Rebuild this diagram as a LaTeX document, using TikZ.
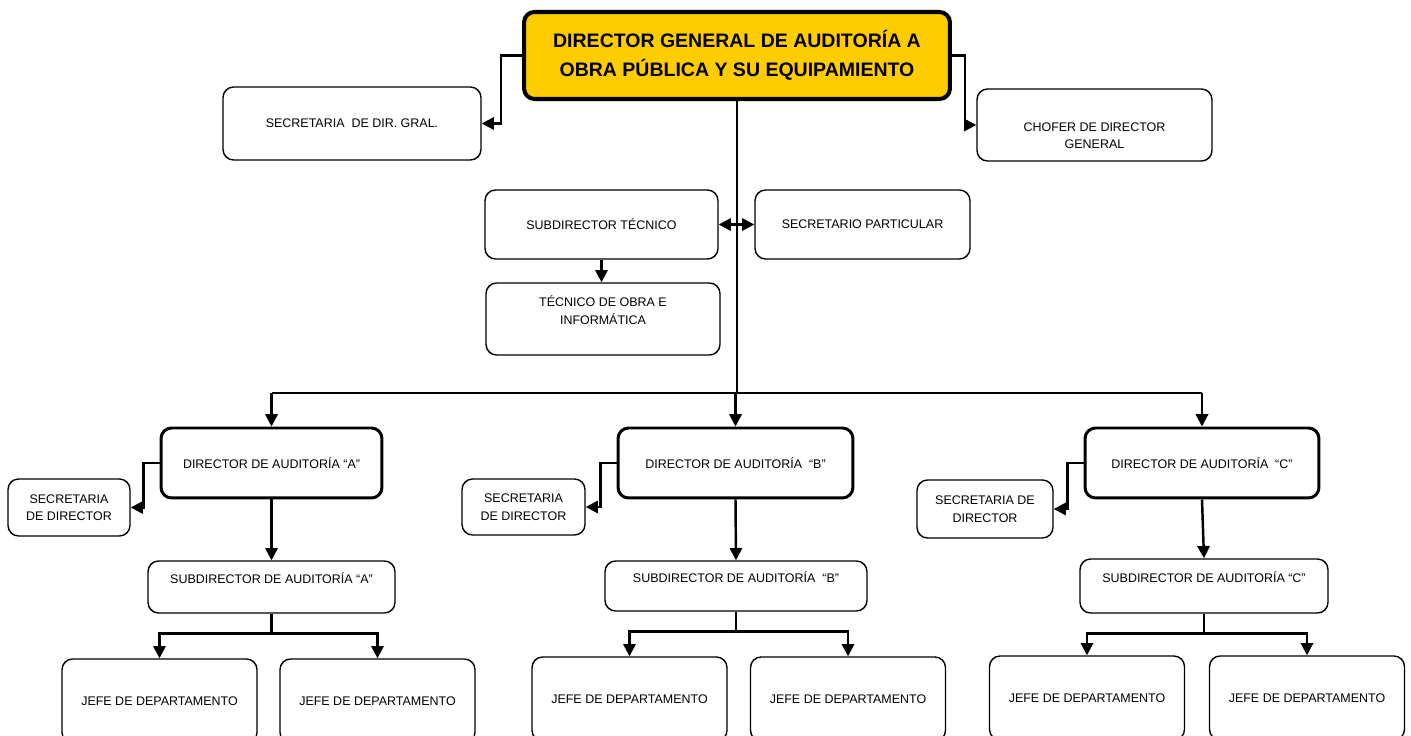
\documentclass[tikz,border=0pt]{standalone}
\usepackage{fontspec}
\setmainfont{Liberation Sans}
\usetikzlibrary{arrows.meta}

\definecolor{dgyellow}{HTML}{FFCC00}

\begin{document}
\begin{tikzpicture}[x=0.02cm, y=-0.02cm,
    box/.style={draw, line width=0.8pt, rounded corners=6pt, inner sep=0pt,
      align=center, font=\fontsize{7.1}{10}\selectfont},
    dirbox/.style={box, line width=1.7pt},
    conn/.style={line width=1.4pt, -{Triangle[length=7pt,width=7pt]}},
    line/.style={line width=1.4pt}]
    \useasboundingbox (0,0) rectangle (1411,736);
    \clip (0,0) rectangle (1411,736);

    % Director general and his staff
    \node[box, line width=2.3pt, fill=dgyellow, minimum width=8.52cm, minimum height=1.74cm,
      font=\fontsize{11.1}{16.2}\selectfont\bfseries] (dg) at (737,55.5)
      {DIRECTOR GENERAL DE AUDITORÍA A\\OBRA PÚBLICA Y SU EQUIPAMIENTO};
    \node[box, minimum width=5.16cm, minimum height=1.46cm] (secdg) at (352,123.5)
      {SECRETARIA \ DE DIR. GRAL.};
    \node[box, minimum width=4.70cm, minimum height=1.44cm] (chofer) at (1094.5,125)
      {\strut\\CHOFER DE DIRECTOR\\GENERAL};
    \node[box, minimum width=4.66cm, minimum height=1.38cm] (subtec) at (601.5,224.5)
      {SUBDIRECTOR TÉCNICO};
    \node[box, minimum width=4.30cm, minimum height=1.38cm] (secpart) at (862.5,224.5)
      {SECRETARIO PARTICULAR};
    \node[box, minimum width=4.68cm, minimum height=1.44cm] (tecobra) at (603,319)
      {TÉCNICO DE OBRA E\\INFORMÁTICA\\\mbox{}};

    % Directores de auditoria
    \node[dirbox, minimum width=4.42cm, minimum height=1.40cm] (dirA) at (271.5,463)
      {DIRECTOR DE AUDITORÍA “A”};
    \node[dirbox, minimum width=4.70cm, minimum height=1.40cm] (dirB) at (735.5,463)
      {DIRECTOR DE AUDITORÍA \ “B"};
    \node[dirbox, minimum width=4.68cm, minimum height=1.40cm] (dirC) at (1202,463)
      {DIRECTOR DE AUDITORÍA \ “C"};

    % Secretarias de director
    \node[box, minimum width=2.44cm, minimum height=1.14cm] (secA) at (69,507.5)
      {SECRETARIA\\DE DIRECTOR};
    \node[box, minimum width=2.46cm, minimum height=1.12cm] (secB) at (523.5,507)
      {SECRETARIA\\DE DIRECTOR};
    \node[box, minimum width=2.72cm, minimum height=1.16cm] (secC) at (985,509)
      {SECRETARIA DE\\DIRECTOR};

    % Subdirectores de auditoria
    \node[box, minimum width=4.94cm, minimum height=1.04cm] (subA) at (271.5,587)
      {SUBDIRECTOR DE AUDITORÍA “A”\\\mbox{}};
    \node[box, minimum width=5.24cm, minimum height=1.00cm] (subB) at (736,586)
      {SUBDIRECTOR DE AUDITORÍA \ “B"\\\mbox{}};
    \node[box, minimum width=4.96cm, minimum height=1.08cm] (subC) at (1204,586)
      {SUBDIRECTOR DE AUDITORÍA “C"\\\mbox{}};

    % Jefes de departamento
    \foreach \b/\xa/\xb/\y in {A/159.5/377.5/701, B/629.5/848/699, C/1087/1307/698} {
      \node[box, minimum width=3.90cm, minimum height=1.68cm] (jefe\b1) at (\xa,\y)
        {JEFE DE DEPARTAMENTO};
      \node[box, minimum width=3.90cm, minimum height=1.68cm] (jefe\b2) at (\xb,\y)
        {JEFE DE DEPARTAMENTO};
    }

    % Connectors of the director general
    \draw[conn] (dg.west) -- ++(-21,0) |- (secdg.east);
    \draw[conn] (dg.east) -- ++(13,0) |- (chofer.west);
    \coordinate (bus) at (737,393);
    \draw[line] (dg.south) -- (bus);
    \draw[line] (bus -| dirA.north) -- (bus -| dirC.north);
    \draw[line, {Triangle[length=7pt,width=7pt]}-{Triangle[length=7pt,width=7pt]}]
      (subtec.east) -- (secpart.west);
    \draw[conn] (subtec.south) -- (subtec.south |- tecobra.north);

    % Connectors of each branch
    \foreach \b in {A,B,C} {
      \draw[conn] (bus -| dir\b.north) -- (dir\b.north);
      \draw[conn] (dir\b.west) -- ++(-16,0) |- (sec\b.east);
      \draw[conn] (dir\b.south) -- (sub\b.north);
      \draw[line] (sub\b.south) -- ++(0,20) coordinate (j\b);
      \draw[conn] (j\b) -| (jefe\b1.north);
      \draw[conn] (j\b) -| (jefe\b2.north);
    }
  \end{tikzpicture}
\end{document}
